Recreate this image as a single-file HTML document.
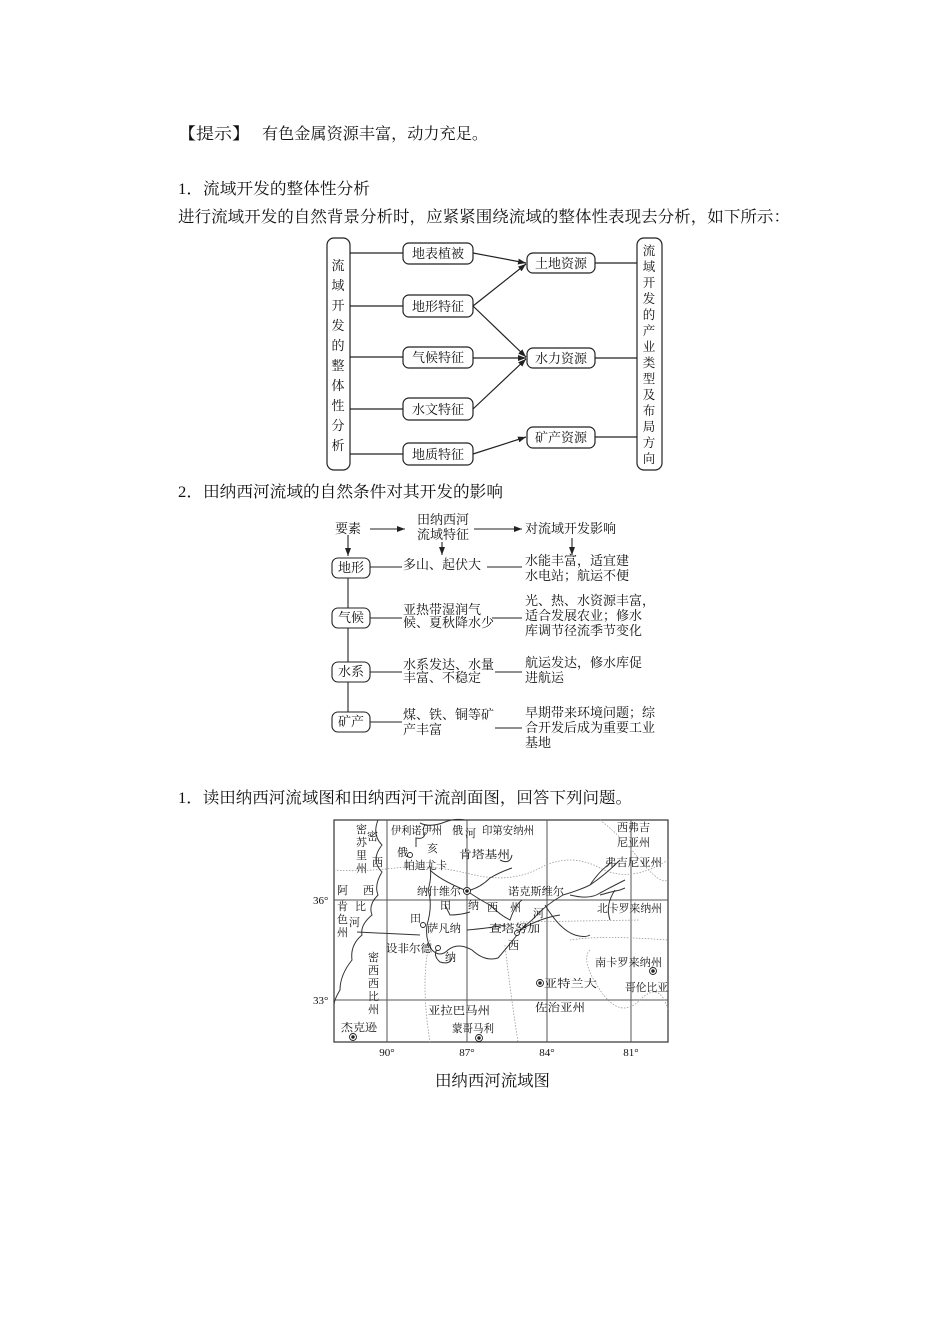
<!DOCTYPE html>
<html><head><meta charset="utf-8">
<style>
html,body{margin:0;padding:0;background:#fff;}
svg{display:block;}
.b{font-family:"Liberation Serif","Noto Serif CJK SC",serif;font-size:16px;fill:#111;}
.d{font-family:"Liberation Serif","Noto Serif CJK SC",serif;font-size:13px;fill:#111;}
.m{font-family:"Liberation Serif","Noto Serif CJK SC",serif;font-size:11px;fill:#111;}
</style></head><body>
<svg width="950" height="1344" viewBox="0 0 950 1344" xmlns="http://www.w3.org/2000/svg">
<defs>
<marker id="ar" markerWidth="8" markerHeight="6" refX="8" refY="3" orient="auto" markerUnits="userSpaceOnUse"><path d="M0,0 L8,3 L0,6 Z" fill="#222"/></marker>
</defs>
<text class="b" x="178" y="139" textLength="72" lengthAdjust="spacingAndGlyphs">【提示】</text>
<text class="b" x="262" y="139" textLength="226" lengthAdjust="spacingAndGlyphs">有色金属资源丰富，动力充足。</text>
<text class="b" x="178" y="194" textLength="192" lengthAdjust="spacingAndGlyphs">1．流域开发的整体性分析</text>
<text class="b" x="178" y="222" textLength="612" lengthAdjust="spacingAndGlyphs">进行流域开发的自然背景分析时，应紧紧围绕流域的整体性表现去分析，如下所示：</text>
<text class="b" x="178" y="497" textLength="325" lengthAdjust="spacingAndGlyphs">2．田纳西河流域的自然条件对其开发的影响</text>
<text class="b" x="178" y="803" textLength="454" lengthAdjust="spacingAndGlyphs">1．读田纳西河流域图和田纳西河干流剖面图，回答下列问题。</text>
<text class="b" x="435" y="1086" textLength="115" lengthAdjust="spacingAndGlyphs">田纳西河流域图</text>

<g stroke="#222" stroke-width="1.2" fill="none">
<rect x="327" y="238" width="23" height="232" rx="7"/>
<rect x="637" y="238" width="25" height="232" rx="7"/>
<rect x="403" y="243" width="70" height="21" rx="6"/>
<rect x="403" y="295" width="70" height="22" rx="6"/>
<rect x="403" y="347" width="70" height="21" rx="6"/>
<rect x="403" y="398" width="70" height="22" rx="6"/>
<rect x="403" y="443" width="70" height="22" rx="6"/>
<rect x="527" y="253" width="68" height="20" rx="6"/>
<rect x="527" y="348" width="68" height="20" rx="6"/>
<rect x="527" y="427" width="68" height="21" rx="6"/>
<line x1="350" y1="253" x2="403" y2="253"/>
<line x1="350" y1="306" x2="403" y2="306"/>
<line x1="350" y1="357" x2="403" y2="357"/>
<line x1="350" y1="409" x2="403" y2="409"/>
<line x1="350" y1="454" x2="403" y2="454"/>
<line x1="595" y1="263" x2="637" y2="263"/>
<line x1="595" y1="358" x2="637" y2="358"/>
<line x1="595" y1="437" x2="637" y2="437"/>
<line x1="473" y1="253" x2="526" y2="263" marker-end="url(#ar)"/>
<line x1="473" y1="306" x2="526" y2="264" marker-end="url(#ar)"/>
<line x1="473" y1="306" x2="526" y2="357" marker-end="url(#ar)"/>
<line x1="473" y1="358" x2="526" y2="358" marker-end="url(#ar)"/>
<line x1="473" y1="409" x2="526" y2="359" marker-end="url(#ar)"/>
<line x1="473" y1="454" x2="526" y2="437" marker-end="url(#ar)"/>
</g>
<g class="d" text-anchor="middle">
<text x="438" y="258">地表植被</text>
<text x="438" y="311">地形特征</text>
<text x="438" y="362">气候特征</text>
<text x="438" y="414">水文特征</text>
<text x="438" y="459">地质特征</text>
<text x="561" y="268">土地资源</text>
<text x="561" y="363">水力资源</text>
<text x="561" y="442">矿产资源</text>
<text x="338" y="270">流</text><text x="338" y="290">域</text><text x="338" y="310">开</text><text x="338" y="330">发</text><text x="338" y="350">的</text><text x="338" y="370">整</text><text x="338" y="390">体</text><text x="338" y="410">性</text><text x="338" y="430">分</text><text x="338" y="450">析</text>
</g>
<g class="d" text-anchor="middle" style="font-size:12.5px">
<text x="649" y="255">流</text><text x="649" y="271">域</text><text x="649" y="287">开</text><text x="649" y="303">发</text><text x="649" y="319">的</text><text x="649" y="335">产</text><text x="649" y="351">业</text><text x="649" y="367">类</text><text x="649" y="383">型</text><text x="649" y="399">及</text><text x="649" y="415">布</text><text x="649" y="431">局</text><text x="649" y="447">方</text><text x="649" y="463">向</text>
</g>

<g stroke="#222" stroke-width="1.1" fill="none">
<rect x="332" y="558" width="38" height="20" rx="6"/>
<rect x="332" y="608" width="38" height="20" rx="6"/>
<rect x="332" y="662" width="38" height="20" rx="6"/>
<rect x="332" y="712" width="38" height="20" rx="6"/>
<line x1="348" y1="578" x2="348" y2="608"/>
<line x1="348" y1="628" x2="348" y2="662"/>
<line x1="348" y1="682" x2="348" y2="712"/>
<line x1="348" y1="535" x2="348" y2="556" marker-end="url(#ar)"/>
<line x1="370" y1="529" x2="405" y2="529" marker-end="url(#ar)"/>
<line x1="474" y1="529" x2="522" y2="529" marker-end="url(#ar)"/>
<line x1="442" y1="542" x2="442" y2="555" marker-end="url(#ar)"/>
<line x1="572" y1="538" x2="572" y2="555" marker-end="url(#ar)"/>
<line x1="370" y1="567" x2="402" y2="567"/>
<line x1="487" y1="567" x2="522" y2="567"/>
<line x1="370" y1="618" x2="402" y2="618"/>
<line x1="492" y1="618" x2="522" y2="618"/>
<line x1="370" y1="672" x2="402" y2="672"/>
<line x1="495" y1="672" x2="522" y2="672"/>
<line x1="370" y1="722" x2="402" y2="722"/>
<line x1="495" y1="728" x2="522" y2="728"/>
</g>
<g class="d">
<text x="335" y="533">要素</text>
<text x="417" y="524">田纳西河</text>
<text x="417" y="539">流域特征</text>
<text x="525" y="533">对流域开发影响</text>
<text x="338" y="572">地形</text>
<text x="338" y="622">气候</text>
<text x="338" y="676">水系</text>
<text x="338" y="726">矿产</text>
<text x="403" y="569">多山、起伏大</text>
<text x="403" y="614">亚热带湿润气</text>
<text x="403" y="627">候、夏秋降水少</text>
<text x="403" y="669">水系发达、水量</text>
<text x="403" y="682">丰富、不稳定</text>
<text x="403" y="719">煤、铁、铜等矿</text>
<text x="403" y="734">产丰富</text>
<text x="525" y="565">水能丰富，适宜建</text>
<text x="525" y="580">水电站；航运不便</text>
<text x="525" y="605">光、热、水资源丰富，</text>
<text x="525" y="620">适合发展农业；修水</text>
<text x="525" y="635">库调节径流季节变化</text>
<text x="525" y="667">航运发达，修水库促</text>
<text x="525" y="682">进航运</text>
<text x="525" y="717">早期带来环境问题；综</text>
<text x="525" y="732">合开发后成为重要工业</text>
<text x="525" y="747">基地</text>
</g>

<g fill="none">
<rect x="334" y="820" width="334" height="222" stroke="#333" stroke-width="1.2"/>
<g stroke="#555" stroke-width="1">
<line x1="387" y1="820" x2="387" y2="1042"/><line x1="467" y1="820" x2="467" y2="1042"/>
<line x1="547" y1="820" x2="547" y2="1042"/><line x1="631" y1="820" x2="631" y2="1042"/>
<line x1="334" y1="900" x2="668" y2="900"/><line x1="334" y1="1000" x2="668" y2="1000"/>
</g>
<g stroke="#999" stroke-width="0.8" stroke-dasharray="1.5,1.5">
<path d="M334,870 Q360,872 395,868 T470,874 T540,868 T600,868 T668,860"/>
<path d="M430,940 Q420,980 430,1042"/>
<path d="M505,945 Q510,990 518,1042"/>
<path d="M570,940 Q600,935 668,940"/>
<path d="M590,950 Q580,960 600,990 T640,1000 T668,1010"/>
<path d="M520,922 L640,920"/>
<path d="M600,820 Q620,835 640,860 T668,880"/>
</g>
<g stroke="#333" stroke-width="1">
<path d="M378,820 Q372,835 382,845 Q370,860 382,872 Q374,885 378,895 Q368,905 372,915 Q360,925 362,935 Q350,945 352,960 Q340,975 340,990 Q334,1000 334,1005"/>
<path d="M420,823 Q430,828 445,822 Q455,818 465,820"/>
<path d="M416,847 L416,838 Q425,840 425,832"/>
<path d="M563,895 Q545,905 532,920 Q520,930 517,935 Q505,950 498,958 Q485,962 472,950 Q458,942 448,950 Q440,958 432,950 Q425,940 427,925 Q433,905 428,890 Q432,878 430,866"/>
<path d="M438,948 Q432,955 440,962 Q450,965 452,958"/>
<path d="M430,870 Q440,880 467,891 Q480,888 490,878 Q500,872 512,868"/>
<path d="M467,891 Q480,900 490,905 Q500,915 510,920 Q515,905 522,900"/>
<path d="M445,905 L450,915 Q460,915 470,912"/>
<path d="M563,895 Q580,890 590,885 Q605,875 620,860"/>
<path d="M570,895 Q590,900 600,893 Q615,885 625,880"/>
<path d="M590,885 Q600,870 612,862"/>
<path d="M600,895 Q610,892 620,890 L625,888"/>
<path d="M545,905 Q560,930 575,935 Q585,938 590,935"/>
<path d="M520,930 Q540,918 560,915"/>
<path d="M615,890 Q605,905 610,920"/>
<path d="M357,932 L420,935"/>
<path d="M467,930 Q490,928 505,925"/>
<path d="M500,860 Q510,865 512,855"/>
</g>
<g stroke="#222" stroke-width="0.9" fill="#fff">
<circle cx="410" cy="855" r="2.5"/>
<circle cx="467" cy="891" r="3.5"/><circle cx="467" cy="891" r="1.3" fill="#222"/>
<circle cx="423" cy="925" r="2.5"/>
<circle cx="517" cy="933" r="2.5"/>
<circle cx="438" cy="948" r="2.5"/>
<circle cx="540" cy="983" r="3.5"/><circle cx="540" cy="983" r="1.3" fill="#222"/>
<circle cx="653" cy="971" r="3.5"/><circle cx="653" cy="971" r="1.3" fill="#222"/>
<circle cx="353" cy="1037" r="3.5"/><circle cx="353" cy="1037" r="1.3" fill="#222"/>
<circle cx="479" cy="1038" r="3.5"/><circle cx="479" cy="1038" r="1.3" fill="#222"/>
</g>
</g>
<g class="m">
<text x="356" y="833">密</text><text x="356" y="846">苏</text><text x="356" y="859">里</text><text x="356" y="872">州</text>
<text x="367" y="840">密</text><text x="372" y="866">西</text>
<text x="337" y="894">阿</text><text x="363" y="894">西</text><text x="355" y="910">比</text>
<text x="337" y="910">肯</text><text x="337" y="923">色</text><text x="337" y="936">州</text><text x="349" y="926">河</text>
<text x="368" y="961">密</text><text x="368" y="974">西</text><text x="368" y="987">西</text><text x="368" y="1000">比</text><text x="368" y="1013">州</text>
<text x="391" y="834" textLength="51" lengthAdjust="spacingAndGlyphs">伊利诺伊州</text>
<text x="452" y="834">俄</text><text x="465" y="837">河</text>
<text x="482" y="834" textLength="52" lengthAdjust="spacingAndGlyphs">印第安纳州</text>
<text x="427" y="852">亥</text><text x="397" y="856">俄</text>
<text x="404" y="869" textLength="43" lengthAdjust="spacingAndGlyphs">帕迪尤卡</text>
<text x="459" y="858" textLength="51" lengthAdjust="spacingAndGlyphs">肯塔基州</text>
<text x="617" y="831" textLength="33" lengthAdjust="spacingAndGlyphs">西弗吉</text>
<text x="617" y="846" textLength="33" lengthAdjust="spacingAndGlyphs">尼亚州</text>
<text x="605" y="866" textLength="57" lengthAdjust="spacingAndGlyphs">弗吉尼亚州</text>
<text x="417" y="895" textLength="44" lengthAdjust="spacingAndGlyphs">纳什维尔</text>
<text x="508" y="895" textLength="56" lengthAdjust="spacingAndGlyphs">诺克斯维尔</text>
<text x="440" y="909">田</text><text x="468" y="909">纳</text><text x="487" y="911">西</text><text x="510" y="911">州</text><text x="533" y="917">河</text>
<text x="597" y="912" textLength="65" lengthAdjust="spacingAndGlyphs">北卡罗来纳州</text>
<text x="410" y="922">田</text>
<text x="427" y="932" textLength="34" lengthAdjust="spacingAndGlyphs">萨凡纳</text>
<text x="489" y="932" textLength="51" lengthAdjust="spacingAndGlyphs">查塔努加</text>
<text x="508" y="949">西</text>
<text x="386" y="952" textLength="46" lengthAdjust="spacingAndGlyphs">设非尔德</text>
<text x="445" y="961">纳</text>
<text x="595" y="966" textLength="67" lengthAdjust="spacingAndGlyphs">南卡罗来纳州</text>
<text x="544" y="987" textLength="53" lengthAdjust="spacingAndGlyphs">亚特兰大</text>
<text x="625" y="991" textLength="43" lengthAdjust="spacingAndGlyphs">哥伦比亚</text>
<text x="428" y="1014" textLength="62" lengthAdjust="spacingAndGlyphs">亚拉巴马州</text>
<text x="535" y="1011" textLength="50" lengthAdjust="spacingAndGlyphs">佐治亚州</text>
<text x="341" y="1031" textLength="36" lengthAdjust="spacingAndGlyphs">杰克逊</text>
<text x="452" y="1032" textLength="42" lengthAdjust="spacingAndGlyphs">蒙哥马利</text>
<text x="313" y="904">36°</text><text x="313" y="1004">33°</text>
<text x="387" y="1056" text-anchor="middle">90°</text><text x="467" y="1056" text-anchor="middle">87°</text>
<text x="547" y="1056" text-anchor="middle">84°</text><text x="631" y="1056" text-anchor="middle">81°</text>
</g>
</svg>
</body></html>
